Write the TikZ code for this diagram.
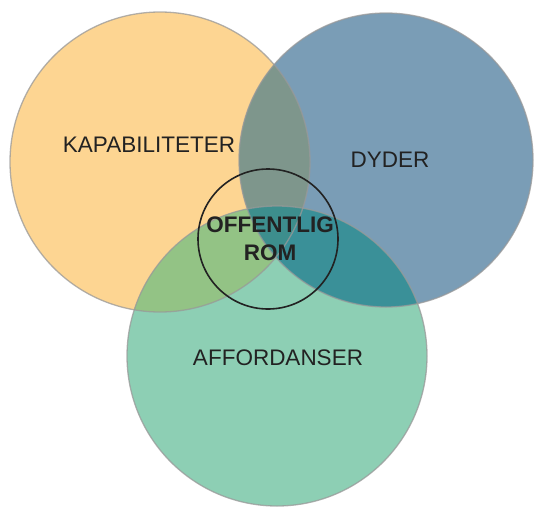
\documentclass[tikz,border=0pt]{standalone}
\usepackage{fontspec}
\setmainfont{Liberation Sans}
\definecolor{kapa}{HTML}{FDD592}
\definecolor{dyd}{HTML}{7A9DB6}
\definecolor{aff}{HTML}{8DCFB4}
\definecolor{kapadyd}{HTML}{7E968C}
\definecolor{kapaaff}{HTML}{93C385}
\definecolor{dydaff}{HTML}{3A9098}
\definecolor{alle}{HTML}{3D8E8D}
\definecolor{tekst}{HTML}{222222}

\begin{document}
\begin{tikzpicture}[x=1pt,y=-1pt,
  rim/.style={draw=black!40,line width=1.3pt,draw opacity=.75},
  lbl/.style={text=tekst,font=\fontsize{22.5}{26}\selectfont}]
\useasboundingbox (0,0) rectangle (534,506);
\coordinate (K) at (160,162);
\coordinate (D) at (386,160);
\coordinate (A) at (277,356);
\fill[kapa] (K) circle (150pt);
\fill[dyd] (D) circle (147pt);
\fill[aff] (A) circle (150pt);
\begin{scope}
\clip (K) circle (150pt);
\fill[kapadyd] (D) circle (147pt);
\fill[kapaaff] (A) circle (150pt);
\end{scope}
\begin{scope}
\clip (D) circle (147pt);
\fill[dydaff] (A) circle (150pt);
\clip (A) circle (150pt);
\fill[alle] (K) circle (150pt);
\end{scope}
\draw[rim] (K) circle (150pt);
\draw[rim] (D) circle (147pt);
\draw[rim] (A) circle (150pt);
\draw[tekst,line width=1.6pt] (268,239) circle (70pt);
\node[lbl] (kapabiliteter) at (149,145) {KAPABILITETER};
\node[lbl] (dyder) at (390,160) {DYDER};
\node[lbl] (affordanser) at (278,358) {AFFORDANSER};
\node[text=tekst,font=\fontsize{22.5}{28}\selectfont\bfseries,align=center] (rom) at (270,239) {OFFENTLIG\\ROM};
\end{tikzpicture}
\end{document}
